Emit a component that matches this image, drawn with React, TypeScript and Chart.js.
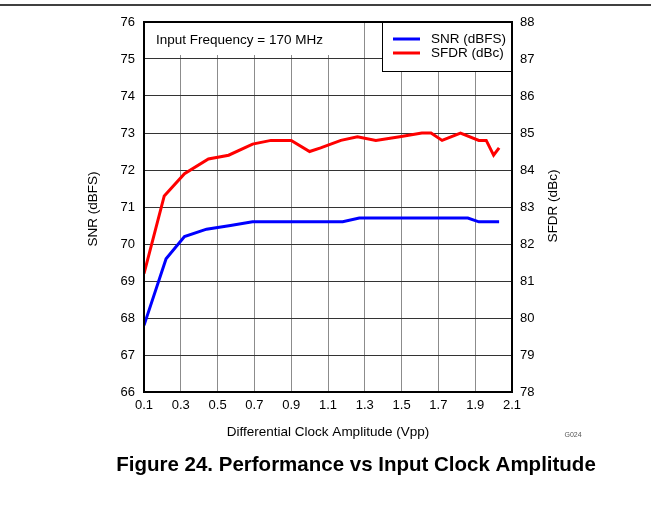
import React, { useEffect, useRef } from "react";
import { Chart, registerables } from "chart.js";

Chart.register(...registerables);

// ---- Data ----
const snrX = [0.1, 0.22, 0.32, 0.44, 0.57, 0.69, 1.18, 1.27, 1.86, 1.92, 2.03];
const snrY = [67.8, 69.6, 70.2, 70.4, 70.5, 70.6, 70.6, 70.7, 70.7, 70.6, 70.6];
const sfdrX = [0.1, 0.21, 0.32, 0.45, 0.56, 0.69, 0.79, 0.9, 1.0, 1.06, 1.17, 1.26, 1.36, 1.49, 1.61, 1.66, 1.72, 1.82, 1.92, 1.96, 2.0, 2.03];
const sfdrY = [81.2, 83.3, 83.9, 84.3, 84.4, 84.7, 84.8, 84.8, 84.5, 84.6, 84.8, 84.9, 84.8, 84.9, 85.0, 85.0, 84.8, 85.0, 84.8, 84.8, 84.4, 84.6];
const xTicks = [0.1, 0.3, 0.5, 0.7, 0.9, 1.1, 1.3, 1.5, 1.7, 1.9, 2.1];
const leftTicks = [66, 67, 68, 69, 70, 71, 72, 73, 74, 75, 76];
const rightTicks = [78, 79, 80, 81, 82, 83, 84, 85, 86, 87, 88];
const seriesLabels = ["SNR (dBFS)", "SFDR (dBc)"];
const seriesColors = ["#0000ff", "#ff0000"];
const xTitle = "Differential Clock Amplitude (Vpp)";
const leftTitle = "SNR (dBFS)";
const rightTitle = "SFDR (dBc)";
const noteText = "Input Frequency = 170 MHz";
const figTitle = "Figure 24. Performance vs Input Clock Amplitude";
const figCode = "G024";

const FONT = "'Liberation Sans', Arial, sans-serif";

const decorPlugin = {
  id: "decor",
  afterDatasetsDraw(chart: any) {
    const ctx = chart.ctx;
    const a = chart.chartArea;
    ctx.save();
    // annotation box
    ctx.fillStyle = "#fff";
    ctx.fillRect(a.left, a.top, 205, 33);
    ctx.fillStyle = "#000";
    ctx.font = `13.5px ${FONT}`;
    ctx.textBaseline = "middle";
    ctx.textAlign = "left";
    ctx.fillText(noteText, 156, 40);

    // legend box
    const lx = 382.5, ly = a.top, lw = a.right - 382.5, lh = 71.5 - a.top;
    ctx.fillStyle = "#fff";
    ctx.fillRect(lx, ly, lw, lh);
    ctx.strokeStyle = "#000";
    ctx.lineWidth = 1;
    ctx.strokeRect(lx, ly, lw, lh);
    const rows = [39, 53];
    seriesLabels.forEach((lab, i) => {
      ctx.strokeStyle = seriesColors[i];
      ctx.lineWidth = 3;
      ctx.beginPath();
      ctx.moveTo(393, rows[i]);
      ctx.lineTo(420, rows[i]);
      ctx.stroke();
      ctx.fillStyle = "#000";
      ctx.fillText(lab, 431, rows[i] + 0.5);
    });

    // plot frame
    ctx.strokeStyle = "#000";
    ctx.lineWidth = 2;
    ctx.strokeRect(a.left, a.top, a.right - a.left, a.bottom - a.top);

    // top rule
    ctx.lineWidth = 1.5;
    ctx.beginPath();
    ctx.moveTo(0, 5);
    ctx.lineTo(651, 5);
    ctx.stroke();

    // axis titles
    ctx.fillStyle = "#000";
    ctx.font = `13.5px ${FONT}`;
    ctx.textAlign = "center";
    ctx.fillText(xTitle, (a.left + a.right) / 2, 432);

    ctx.save();
    ctx.translate(93, 209);
    ctx.rotate(-Math.PI / 2);
    ctx.fillText(leftTitle, 0, 0);
    ctx.restore();
    ctx.save();
    ctx.translate(553, 206);
    ctx.rotate(-Math.PI / 2);
    ctx.fillText(rightTitle, 0, 0);
    ctx.restore();

    // figure code
    ctx.fillStyle = "#555";
    ctx.font = `7px ${FONT}`;
    ctx.fillText(figCode, 573, 435);

    // figure title
    ctx.fillStyle = "#000";
    ctx.font = `bold 20.5px ${FONT}`;
    ctx.fillText(figTitle, 356, 465);
    ctx.restore();
  },
};

export default function App() {
  const ref = useRef<HTMLCanvasElement>(null);
  useEffect(() => {
    if (!ref.current) return;
    const tickFont = { family: FONT, size: 13 };
    const chart = new Chart(ref.current, {
      type: "line",
      data: {
        datasets: [
          {
            label: seriesLabels[0],
            data: snrX.map((x, i) => ({ x, y: snrY[i] })),
            borderColor: seriesColors[0],
            backgroundColor: seriesColors[0],
            borderWidth: 3,
            pointRadius: 0,
            tension: 0,
            yAxisID: "y",
          },
          {
            label: seriesLabels[1],
            data: sfdrX.map((x, i) => ({ x, y: sfdrY[i] })),
            borderColor: seriesColors[1],
            backgroundColor: seriesColors[1],
            borderWidth: 3,
            pointRadius: 0,
            tension: 0,
            yAxisID: "y1",
          },
        ],
      },
      options: {
        responsive: false,
        animation: false,
        layout: { padding: { top: 22, left: 0, right: 0, bottom: 0 } },
        plugins: { legend: { display: false }, tooltip: { enabled: false }, title: { display: false } },
        scales: {
          x: {
            type: "linear",
            min: xTicks[0],
            max: xTicks[xTicks.length - 1],
            afterBuildTicks: (s: any) => {
              s.ticks = xTicks.map((v) => ({ value: v }));
            },
            afterFit: (s: any) => {
              s.height = 121;
            },
            ticks: {
              font: tickFont,
              color: "#000",
              padding: 6,
              maxRotation: 0,
              autoSkip: false,
              callback: (v: any) => Number(v).toFixed(1),
            },
            grid: { color: "#8c8c8c", lineWidth: 1, drawTicks: false },
            border: { display: false },
          },
          y: {
            type: "linear",
            position: "left",
            min: leftTicks[0],
            max: leftTicks[leftTicks.length - 1],
            afterBuildTicks: (s: any) => {
              s.ticks = leftTicks.map((v) => ({ value: v }));
            },
            afterFit: (s: any) => {
              s.width = 144;
            },
            ticks: { font: tickFont, color: "#000", padding: 9, autoSkip: false },
            grid: { color: "#333", lineWidth: 1, drawTicks: false },
            border: { display: false },
          },
          y1: {
            type: "linear",
            position: "right",
            min: rightTicks[0],
            max: rightTicks[rightTicks.length - 1],
            afterBuildTicks: (s: any) => {
              s.ticks = rightTicks.map((v) => ({ value: v }));
            },
            afterFit: (s: any) => {
              s.width = 139;
            },
            ticks: { font: tickFont, color: "#000", padding: 8, autoSkip: false },
            grid: { drawOnChartArea: false, drawTicks: false },
            border: { display: false },
          },
        },
      },
      plugins: [decorPlugin],
    } as any);
    return () => chart.destroy();
  }, []);
  return (
    <div style={{ position: "fixed", left: 0, top: 0, width: 651, height: 513, background: "#fff" }}>
      <canvas ref={ref} width={651} height={513} style={{ display: "block" }} />
    </div>
  );
}
